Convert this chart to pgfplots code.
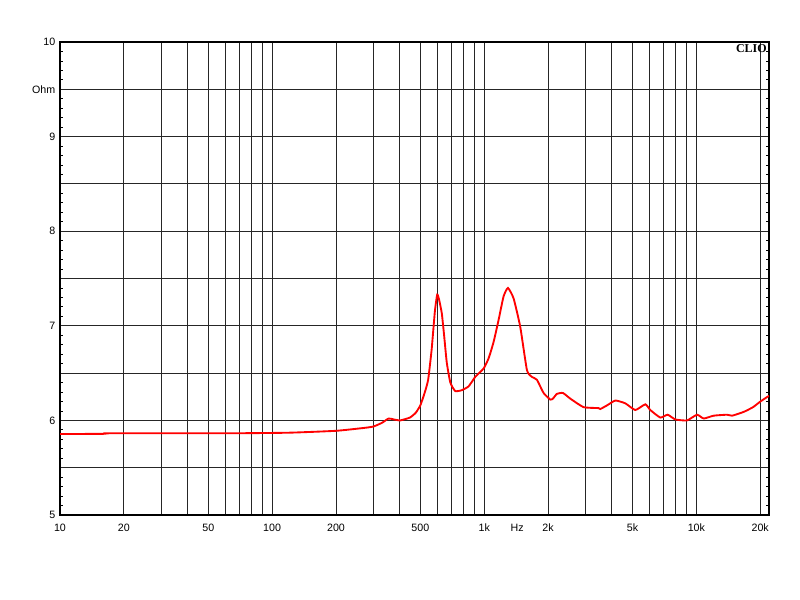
\documentclass[border=0pt]{standalone}
\usepackage{fontspec}
\setmainfont{Liberation Sans}
\newfontfamily\cliofont{Liberation Serif}
\usepackage{pgfplots}
\pgfplotsset{compat=1.18}
\begin{document}
\begin{tikzpicture}
\fill[white] (-45pt,-63.75pt) rectangle (555pt,386.25pt);
\path[use as bounding box] (-45pt,-63.75pt) rectangle (555pt,386.25pt);
\begin{axis}[
  at={(0,0)}, anchor=south west,
  scale only axis, width=531.75pt, height=354.75pt,
  xmode=log, xmin=10, xmax=22000, ymin=5, ymax=10,
  axis line style={line width=1.1pt, black},
  font=\fontsize{8}{9.6}\selectfont,
  xtick={10,20,50,100,200,500,1000,2000,5000,10000,20000},
  xticklabels={10,20,50,100,200,500,1k,2k,5k,10k,20k},
  minor xtick={30,40,60,70,80,90,300,400,600,700,800,900,3000,4000,6000,7000,8000,9000},
  extra x ticks={1430}, extra x tick labels={Hz},
  extra x tick style={grid=none, major tick length=0pt},
  ytick={5,5.5,...,10},
  yticklabels={5,,6,,7,,8,,9,Ohm,10},
  minor y tick num=4,
  xmajorgrids, xminorgrids, ymajorgrids,
  major grid style={line width=0.7pt, black!85},
  minor grid style={line width=0.7pt, black!85},
  major x tick style={draw=none},
  minor x tick style={draw=none},
  major y tick style={draw=none},
  minor y tick style={line width=0.6pt, black},
  minor tick length=2.5pt,
  tick align=inside,
  xticklabel style={yshift=-3pt},
  yticklabel style={xshift=0pt},
  clip=true,
]
\addplot[red, line width=1.4pt, smooth, tension=0.3] coordinates {
(10,5.856) (16,5.858) (17,5.864) (64,5.864) (120,5.870) (200,5.890)
(270,5.920) (300,5.935) (330,5.975) (354,6.02) (375,6.01) (402,6.00)
(446,6.03) (475,6.08) (500,6.16) (525,6.30) (544,6.43) (565,6.75)
(585,7.15) (600,7.33) (612,7.28) (631,7.13) (648,6.88) (666,6.61)
(692,6.40) (730,6.31) (785,6.32) (844,6.36) (907,6.46) (994,6.55)
(1050,6.66) (1107,6.83) (1168,7.06) (1233,7.31) (1293,7.40) (1375,7.29)
(1478,6.99) (1590,6.53) (1678,6.46) (1771,6.43) (1904,6.29) (2049,6.22)
(2108,6.23) (2200,6.28) (2350,6.29) (2545,6.23) (2940,6.14) (3458,6.13)
(3524,6.12) (3800,6.16) (4150,6.21) (4627,6.18) (5155,6.11) (5746,6.17)
(6063,6.11) (6763,6.03) (7323,6.06) (7960,6.01) (9036,6.00) (10073,6.06)
(10830,6.02) (12070,6.05) (13960,6.06) (14740,6.05) (16720,6.09) (18500,6.14)
(20040,6.20) (22000,6.26)
};
\node[anchor=north east, inner sep=1.5pt, font=\cliofont\bfseries\fontsize{9}{10}\selectfont] at (rel axis cs:1,1) {CLIO};
\end{axis}
\end{tikzpicture}
\end{document}
